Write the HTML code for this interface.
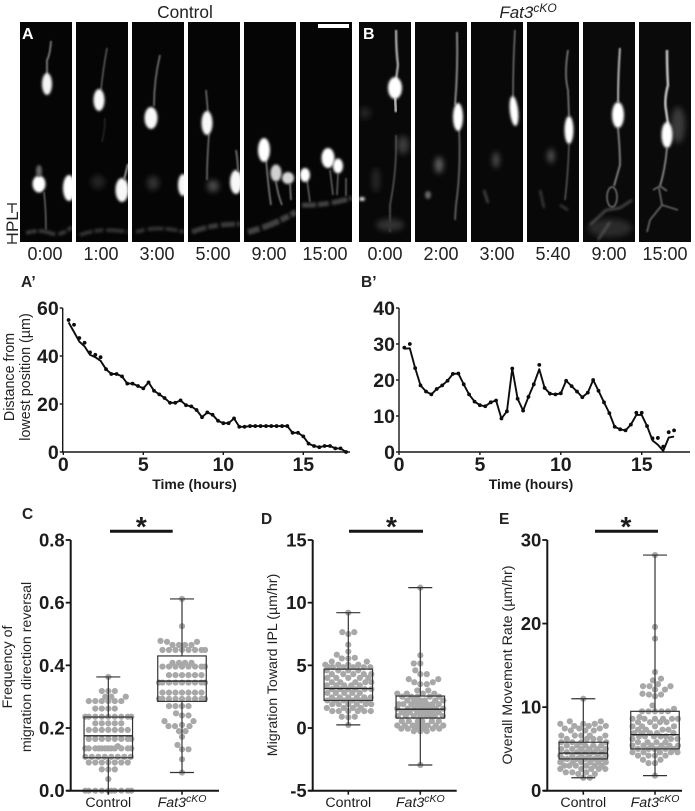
<!DOCTYPE html>
<html lang="en">
<head>
<meta charset="utf-8">
<title>Fat3 cKO migration figure</title>
<style>
html,body{margin:0;padding:0;background:#fff;}
svg{display:block;font-family:"Liberation Sans",sans-serif;}
</style>
</head>
<body>
<svg id="figure" xmlns="http://www.w3.org/2000/svg" width="695" height="811" viewBox="0 0 695 811">
<defs>
<filter id="b1" x="-60%" y="-60%" width="220%" height="220%"><feGaussianBlur stdDeviation="1.25"/></filter>
<filter id="b2" x="-60%" y="-60%" width="220%" height="220%"><feGaussianBlur stdDeviation="0.8"/></filter>
<filter id="b3" x="-100%" y="-100%" width="300%" height="300%"><feGaussianBlur stdDeviation="3"/></filter>
<filter id="band" x="-20%" y="-200%" width="140%" height="500%"><feGaussianBlur stdDeviation="1.4"/></filter>
<clipPath id="ca1"><rect x="20" y="22" width="52" height="220"/></clipPath>
<clipPath id="ca2"><rect x="76" y="22" width="52" height="220"/></clipPath>
<clipPath id="ca3"><rect x="132" y="22" width="52" height="220"/></clipPath>
<clipPath id="ca4"><rect x="188" y="22" width="52" height="220"/></clipPath>
<clipPath id="ca5"><rect x="244" y="22" width="52" height="220"/></clipPath>
<clipPath id="ca6"><rect x="300" y="22" width="52" height="220"/></clipPath>
<clipPath id="cb1"><rect x="359" y="22" width="52" height="220"/></clipPath>
<clipPath id="cb2"><rect x="415" y="22" width="52" height="220"/></clipPath>
<clipPath id="cb3"><rect x="471" y="22" width="52" height="220"/></clipPath>
<clipPath id="cb4"><rect x="527" y="22" width="52" height="220"/></clipPath>
<clipPath id="cb5"><rect x="583" y="22" width="52" height="220"/></clipPath>
<clipPath id="cb6"><rect x="639" y="22" width="52" height="220"/></clipPath>
</defs>

<text x="185" y="18" font-size="17.3" text-anchor="middle" fill="#222">Control</text>
<text x="528" y="18" font-size="17" text-anchor="middle" font-style="italic" fill="#222">Fat3<tspan dy="-6" font-size="12">cKO</tspan></text>

<!-- Control micrographs -->
<g clip-path="url(#ca1)">
<rect x="20" y="22" width="52" height="220" fill="#050505"/>
<path d="M51 41 Q50 55 47 60 L47 75" stroke="#7d7d7d" stroke-width="1.8" fill="none" filter="url(#b2)"/>
<ellipse cx="47" cy="84" rx="5" ry="11" fill="#f4f4f4" filter="url(#b1)"/>
<ellipse cx="39" cy="184" rx="6.5" ry="8.5" fill="#fff" filter="url(#b1)"/>
<ellipse cx="39" cy="171" rx="3" ry="6" fill="#666" filter="url(#b1)"/>
<ellipse cx="69" cy="188" rx="6" ry="13" fill="#fff" filter="url(#b1)"/>
<path d="M44 192 Q46 210 46 230" stroke="#666" stroke-width="1.5" fill="none" filter="url(#b2)"/>
<path d="M26 233 Q40 229 50 233 T72 227" stroke="#383838" stroke-width="4" stroke-dasharray="11 2 17 3 8 2" fill="none" filter="url(#band)"/>
</g>
<g clip-path="url(#ca2)">
<rect x="76" y="22" width="52" height="220" fill="#050505"/>
<path d="M107 48 Q103 70 101 90" stroke="#5e5e5e" stroke-width="1.5" fill="none" filter="url(#b2)"/>
<path d="M105 118 Q105 130 102 142" stroke="#2c2c2c" stroke-width="1.3" fill="none" filter="url(#b2)"/>
<ellipse cx="99" cy="100" rx="5.5" ry="11" fill="#f8f8f8" filter="url(#b1)"/>
<ellipse cx="98" cy="182" rx="7" ry="7" fill="#232323" filter="url(#b3)"/>
<ellipse cx="122" cy="190" rx="6.5" ry="12" fill="#f8f8f8" filter="url(#b1)"/>
<path d="M128 164 L124 180" stroke="#888" stroke-width="2.2" fill="none" filter="url(#b2)"/>
<path d="M80 235 Q100 227 128 232" stroke="#323232" stroke-width="4" stroke-dasharray="13 2 9 3 18 2" fill="none" filter="url(#band)"/>
</g>
<g clip-path="url(#ca3)">
<rect x="132" y="22" width="52" height="220" fill="#050505"/>
<path d="M160 55 Q154 80 154 106" stroke="#707070" stroke-width="1.7" fill="none" filter="url(#b2)"/>
<ellipse cx="151" cy="118" rx="6.5" ry="11" fill="#f8f8f8" filter="url(#b1)"/>
<ellipse cx="153" cy="183" rx="6" ry="7" fill="#333" filter="url(#b3)"/>
<ellipse cx="183" cy="185" rx="5" ry="11" fill="#f8f8f8" filter="url(#b1)"/>
<path d="M136 232 Q158 225 184 232" stroke="#323232" stroke-width="4" stroke-dasharray="9 3 16 2 12 2" fill="none" filter="url(#band)"/>
</g>
<g clip-path="url(#ca4)">
<rect x="188" y="22" width="52" height="220" fill="#050505"/>
<path d="M206 90 L208 113 M209 134 Q207 160 207 180" stroke="#707070" stroke-width="1.6" fill="none" filter="url(#b2)"/>
<ellipse cx="207" cy="123" rx="5.5" ry="12" fill="#f8f8f8" filter="url(#b1)"/>
<ellipse cx="213" cy="186" rx="6" ry="6" fill="#4a4a4a" filter="url(#b3)"/>
<ellipse cx="236" cy="182" rx="6" ry="12" fill="#f8f8f8" filter="url(#b1)"/>
<path d="M236 150 Q238 162 238 172" stroke="#666" stroke-width="2" fill="none" filter="url(#b2)"/>
<path d="M192 232 Q212 224 240 224" stroke="#3b3b3b" stroke-width="5" stroke-dasharray="15 2 10 3 14 2" fill="none" filter="url(#band)"/>
</g>
<g clip-path="url(#ca5)">
<rect x="244" y="22" width="52" height="220" fill="#050505"/>
<path d="M266 158 Q268 185 271 205 M276 182 Q278 195 282 205 M290 184 L291 200" stroke="#777" stroke-width="1.7" fill="none" filter="url(#b2)"/>
<ellipse cx="264" cy="150" rx="6" ry="12" fill="#fff" filter="url(#b1)"/>
<ellipse cx="276" cy="173" rx="5.5" ry="8.5" fill="#d0d0d0" filter="url(#b1)"/>
<ellipse cx="288" cy="178" rx="6" ry="6" fill="#d8d8d8" filter="url(#b1)"/>
<path d="M248 232 Q272 226 296 212" stroke="#424242" stroke-width="6" stroke-dasharray="12 3 18 2 9 2" fill="none" filter="url(#band)"/>
</g>
<g clip-path="url(#ca6)">
<rect x="300" y="22" width="52" height="220" fill="#050505"/>
<path d="M307 180 L310 202 M330 170 L333 195 M338 174 L337 195 M346 178 L346 196" stroke="#666" stroke-width="1.5" fill="none" filter="url(#b2)"/>
<ellipse cx="305" cy="175" rx="5" ry="7" fill="#fff" filter="url(#b1)"/>
<ellipse cx="328" cy="158" rx="6.5" ry="10" fill="#fff" filter="url(#b1)"/>
<ellipse cx="338" cy="166" rx="5" ry="7.5" fill="#fff" filter="url(#b1)"/>
<path d="M302 205 Q325 206 352 198" stroke="#424242" stroke-width="5" stroke-dasharray="14 2 11 3 16 2" fill="none" filter="url(#band)"/>
</g>
<rect x="318" y="24" width="31" height="4" fill="#fff"/>
<text x="22" y="39" font-size="16" font-weight="bold" fill="#fff">A</text>

<!-- Fat3cKO micrographs -->
<g clip-path="url(#cb1)">
<rect x="359" y="22" width="52" height="220" fill="#080808"/>
<ellipse cx="403" cy="145" rx="6" ry="9" fill="#3a3a3a" filter="url(#b3)"/>
<ellipse cx="376" cy="180" rx="4" ry="12" fill="#282828" filter="url(#b3)"/>
<ellipse cx="365" cy="113" rx="6" ry="6" fill="#222" filter="url(#b3)"/>
<path d="M396 30 Q396 50 398 65 L396 80" stroke="#aaa" stroke-width="2.4" fill="none" filter="url(#b2)"/>
<path d="M395 98 L396 112" stroke="#bbb" stroke-width="2.8" fill="none" filter="url(#b2)"/>
<path d="M396 135 Q397 170 390 205 L390 232" stroke="#5c5c5c" stroke-width="1.5" fill="none" filter="url(#b2)"/>
<ellipse cx="395" cy="88" rx="7" ry="11" fill="#fff" filter="url(#b1)"/>
<ellipse cx="362" cy="199" rx="3" ry="2" fill="#ddd" filter="url(#b1)"/>
<ellipse cx="390" cy="225" rx="14" ry="6" fill="#333" filter="url(#b3)"/>
</g>
<g clip-path="url(#cb2)">
<rect x="415" y="22" width="52" height="220" fill="#080808"/>
<ellipse cx="439" cy="165" rx="4" ry="8" fill="#666" filter="url(#b3)"/>
<ellipse cx="428" cy="195" rx="3" ry="4" fill="#666" filter="url(#b1)"/>
<path d="M457 32 Q458 70 455 105" stroke="#888" stroke-width="2" fill="none" filter="url(#b2)"/>
<path d="M459 128 Q461 170 456 205 L455 220" stroke="#666" stroke-width="1.7" fill="none" filter="url(#b2)"/>
<ellipse cx="458" cy="117" rx="5" ry="14" fill="#fff" filter="url(#b1)"/>
</g>
<g clip-path="url(#cb3)">
<rect x="471" y="22" width="52" height="220" fill="#080808"/>
<ellipse cx="496" cy="160" rx="3" ry="8" fill="#555" filter="url(#b3)"/>
<path d="M484 190 L488 203" stroke="#555" stroke-width="2" fill="none" filter="url(#b1)"/>
<path d="M515 30 Q513 65 513 97" stroke="#6e6e6e" stroke-width="1.6" fill="none" filter="url(#b2)"/>
<ellipse cx="514" cy="111" rx="4.2" ry="15" fill="#fff" filter="url(#b1)" transform="rotate(-6 514 111)"/>
</g>
<g clip-path="url(#cb4)">
<rect x="527" y="22" width="52" height="220" fill="#080808"/>
<ellipse cx="551" cy="156" rx="3.5" ry="7" fill="#555" filter="url(#b3)"/>
<path d="M568 50 Q564 75 568 90 L569 116" stroke="#7a7a7a" stroke-width="1.7" fill="none" filter="url(#b2)"/>
<path d="M569 144 Q568 175 565 200" stroke="#5a5a5a" stroke-width="1.5" fill="none" filter="url(#b2)"/>
<path d="M540 190 L544 208 M560 205 L568 210" stroke="#444" stroke-width="2" fill="none" filter="url(#b1)"/>
<ellipse cx="569" cy="130" rx="4.5" ry="14" fill="#fff" filter="url(#b1)"/>
</g>
<g clip-path="url(#cb5)">
<rect x="583" y="22" width="52" height="220" fill="#0a0a0a"/>
<path d="M620 48 Q618 75 618 102" stroke="#aaa" stroke-width="2.2" fill="none" filter="url(#b2)"/>
<path d="M618 128 Q620 150 620 165 L614 186" stroke="#808080" stroke-width="1.9" fill="none" filter="url(#b2)"/>
<ellipse cx="612" cy="197" rx="5" ry="10" fill="none" stroke="#777" stroke-width="1.5" filter="url(#b2)"/>
<ellipse cx="610" cy="228" rx="22" ry="9" fill="#2a2a2a" filter="url(#b3)"/>
<path d="M590 225 L606 210 L620 208 L632 200 M598 240 L610 222" stroke="#5c5c5c" stroke-width="1.9" fill="none" filter="url(#b1)"/>
<ellipse cx="618" cy="115" rx="6" ry="13" fill="#fff" filter="url(#b1)"/>
</g>
<g clip-path="url(#cb6)">
<rect x="639" y="22" width="52" height="220" fill="#0a0a0a"/>
<ellipse cx="678" cy="125" rx="7" ry="18" fill="#3a3a3a" filter="url(#b3)"/>
<path d="M667 50 Q667 70 668 85 Q664 100 666 110 L668 124" stroke="#c4c4c4" stroke-width="2.5" fill="none" filter="url(#b2)"/>
<path d="M667 148 Q665 170 660 186" stroke="#888" stroke-width="1.8" fill="none" filter="url(#b2)"/>
<path d="M653 190 L660 186 L667 191 M659 188 L662 205 L650 220 L647 232 M662 205 L678 210" stroke="#666" stroke-width="1.7" fill="none" filter="url(#b2)"/>
<ellipse cx="667" cy="135" rx="5.5" ry="13" fill="#fff" filter="url(#b1)"/>
</g>
<text x="363" y="39" font-size="16" font-weight="bold" fill="#fff">B</text>

<g>
<text transform="translate(18,224) rotate(-90)" font-size="17" text-anchor="middle" fill="#222">IPL</text>
<path d="M12 204 V213 M7 204 H17 M12 235 V243 M7 243 H17" stroke="#222" stroke-width="1.3" fill="none"/>
</g>

<g font-size="18" text-anchor="middle" fill="#222">
<text x="45" y="260">0:00</text>
<text x="101" y="260">1:00</text>
<text x="157" y="260">3:00</text>
<text x="213" y="260">5:00</text>
<text x="269" y="260">9:00</text>
<text x="325" y="260">15:00</text>
<text x="385" y="260">0:00</text>
<text x="441" y="260">2:00</text>
<text x="497" y="260">3:00</text>
<text x="553" y="260">5:40</text>
<text x="609" y="260">9:00</text>
<text x="665" y="260">15:00</text>
</g>

<g font-size="15.5" font-weight="bold" fill="#222">
<text x="21" y="287">A’</text>
<text x="361" y="287">B’</text>
<text x="22" y="519">C</text>
<text x="261" y="524">D</text>
<text x="499" y="524">E</text>
</g>

<text transform="translate(14,377) rotate(-90)" font-size="14.3" text-anchor="middle" fill="#222">Distance from</text>
<text transform="translate(30,377) rotate(-90)" font-size="14.3" text-anchor="middle" fill="#222">lowest position (µm)</text>
<text transform="translate(12,667) rotate(-90)" font-size="14.2" text-anchor="middle" fill="#222">Frequency of</text>
<text transform="translate(31,667) rotate(-90)" font-size="14.2" text-anchor="middle" fill="#222">migration direction reversal</text>
<text transform="translate(277,665) rotate(-90)" font-size="14.2" text-anchor="middle" fill="#222">Migration Toward IPL (µm/hr)</text>
<text transform="translate(512,665) rotate(-90)" font-size="14.2" text-anchor="middle" fill="#222">Overall Movement Rate (µm/hr)</text>

<g id="charts"></g>
</svg>

<script>
/* ---- line chart data ---- */
const timeHours = [0.33,0.67,1,1.33,1.67,2,2.33,2.67,3,3.33,3.67,4,4.33,4.67,5,5.33,5.67,6,6.33,6.67,7,7.33,7.67,8,8.33,8.67,9,9.33,9.67,10,10.33,10.67,11,11.33,11.67,12,12.33,12.67,13,13.33,13.67,14,14.33,14.67,15,15.33,15.67,16,16.33,16.67,17,17.33,17.67];
const aPrimeDots = [55,53,47.5,45.5,41.5,40.5,39.5,34.5,32.5,32.5,31.5,28.5,28.5,27.5,26.5,29,25.5,24,22.5,20.5,20.5,21.5,19.5,19,17.5,14.5,16.5,15.5,13,12,12,14,10.5,10.5,10.8,10.8,10.8,10.8,10.8,10.8,10.8,10.8,8,8,6.5,3.5,2.5,2,2.5,2.5,1.5,1.5,0];
const aPrimeLine = [54,50,46,44,40.5,39.5,38,34.5,32.5,32.5,31.5,28.5,28.5,27.5,26.5,29,25.5,24,22.5,20.5,20.5,21.5,19.5,19,17.5,14.5,16.5,15.5,13,12,12,14,10.5,10.5,10.8,10.8,10.8,10.8,10.8,10.8,10.8,10.8,8,8,6.5,3.5,2.5,2,2.5,2.5,1.5,1.5,0];
const bPrimeTime = [0.33,0.67,1,1.33,1.67,2,2.33,2.67,3,3.33,3.67,4,4.33,4.67,5,5.33,5.67,6,6.33,6.67,7,7.33,7.67,8,8.33,8.67,9,9.33,9.67,10,10.33,10.67,11,11.33,11.67,12,12.33,12.67,13,13.33,13.67,14,14.33,14.67,15,15.33,15.67,16,16.33,16.67,17];
const bPrimeDots = [29,30,23.3,18.5,16.8,16,17.5,18.5,19.8,21.7,21.8,18.8,16,14,13,12.7,13.8,14.3,9.3,11.3,23.2,14.8,11.5,15.3,18.8,24.2,17.8,16.2,16,16.3,19.8,18.3,16.8,15.2,16.5,20,17,13.8,10.8,7,6.3,6,7.6,10.9,10.9,7.2,3.8,3.9,1.5,5.5,6];
const bPrimeLine = [28.7,28.8,23.3,18.5,16.8,16,17.5,18.5,19.8,21.7,21.8,18.8,16,14,13,12.7,13.8,14.3,9.3,11.3,23.2,14.8,11.5,15.3,18.8,23,17.8,16.2,16,16.3,19.8,18.3,16.8,15.2,16.5,20,17,13.8,10.8,7,6.3,6,7.6,10.3,10.3,7.2,3.2,2,0.3,4,4.3];

/* ---- tick labels ---- */
const aPrimeYTicks = [0,20,40,60];
const bPrimeYTicks = [0,10,20,30,40];
const hourTicks = [0,5,10,15];
const cYTicks = ["0.0","0.2","0.4","0.6","0.8"];
const dYTicks = [-5,0,5,10,15];
const eYTicks = [0,10,20,30];

/* ---- box plot summaries: [whisker low, Q1, median, Q3, whisker high] ---- */
const cControlBox = [0,0.105,0.175,0.235,0.363];
const cCkoBox = [0.058,0.285,0.35,0.43,0.612];
const dControlBox = [0.25,2.2,3.15,4.7,9.2];
const dCkoBox = [-2.95,0.8,1.5,2.55,11.2];
const eControlBox = [1.55,3.8,4.5,5.8,11];
const eCkoBox = [1.8,5,6.7,9.5,28.2];

/* ---- individual cells ---- */
const cControlDots = [0,0,0,0,0,0,0,0,0,0,0.037,0.068,0.068,0.068,0.09,0.09,0.09,0.09,0.09,0.09,0.09,0.108,0.108,0.108,0.108,0.108,0.108,0.108,0.108,0.135,0.135,0.135,0.135,0.135,0.135,0.135,0.135,0.135,0.135,0.135,0.135,0.142,0.165,0.165,0.165,0.165,0.165,0.165,0.165,0.165,0.194,0.194,0.194,0.194,0.194,0.194,0.194,0.215,0.215,0.215,0.215,0.215,0.236,0.236,0.236,0.236,0.236,0.236,0.236,0.236,0.236,0.262,0.262,0.262,0.262,0.286,0.286,0.286,0.286,0.286,0.286,0.3,0.3,0.3,0.318,0.318,0.318,0.363];
const cCkoDots = [0.058,0.1,0.132,0.132,0.146,0.172,0.19,0.19,0.206,0.206,0.206,0.21,0.222,0.222,0.24,0.24,0.247,0.27,0.27,0.27,0.27,0.293,0.293,0.293,0.293,0.293,0.293,0.293,0.293,0.293,0.313,0.313,0.313,0.313,0.313,0.313,0.313,0.345,0.345,0.345,0.345,0.345,0.345,0.345,0.345,0.345,0.369,0.369,0.369,0.369,0.369,0.369,0.396,0.396,0.396,0.396,0.396,0.396,0.396,0.396,0.408,0.408,0.408,0.408,0.449,0.449,0.449,0.449,0.449,0.449,0.449,0.449,0.465,0.465,0.465,0.465,0.475,0.475,0.478,0.525,0.612];
const dControlDots = [0.25,0.85,0.9,0.9,1.35,1.35,1.35,1.35,1.35,1.35,1.6,1.6,1.6,1.6,1.9,1.9,1.9,1.9,1.9,1.9,2.2,2.2,2.2,2.2,2.2,2.2,2.45,2.45,2.45,2.45,2.45,2.45,2.8,2.8,2.8,2.8,2.8,3.1,3.1,3.1,3.1,3.1,3.1,3.4,3.4,3.4,3.4,3.4,3.65,3.65,3.65,3.65,3.65,4,4,4,4,4,4.3,4.3,4.3,4.3,4.3,4.6,4.6,4.6,4.6,4.85,4.85,4.85,4.85,4.85,4.85,5.05,5.05,5.05,5.05,5.3,5.3,5.55,5.55,5.6,5.85,6.1,6.65,7.5,7.65,7.65,9.2];
const dCkoDots = [-2.95,-0.25,-0.25,-0.25,-0.05,-0.05,-0.05,-0.05,-0.05,-0.05,0.2,0.2,0.2,0.2,0.2,0.2,0.2,0.2,0.2,0.55,0.55,0.55,0.55,0.55,0.55,0.95,0.95,0.95,0.95,0.95,0.95,0.95,0.95,1.25,1.25,1.25,1.25,1.25,1.25,1.25,1.25,1.55,1.55,1.55,1.55,1.55,1.55,1.55,1.55,1.9,1.9,1.9,1.9,1.9,1.9,1.9,1.9,2.2,2.2,2.2,2.2,2.2,2.2,2.5,2.5,2.5,2.5,2.5,2.75,2.75,2.75,2.75,3,3,3.5,3.5,3.65,3.65,3.9,3.9,4.3,4.3,4.6,5.15,5.15,5.8,11.2];
const eControlDots = [1.55,1.55,2,2,2.2,2.2,2.2,2.6,2.6,2.6,2.6,2.6,3,3,3,3,3,3,3.4,3.4,3.4,3.4,3.4,3.4,3.8,3.8,3.8,3.8,3.8,3.8,4.2,4.2,4.2,4.2,4.2,4.2,4.6,4.6,4.6,4.6,4.6,5,5,5,5,5,5,5.4,5.4,5.4,5.4,5.4,5.8,5.8,5.8,5.8,6.2,6.2,6.2,6.2,6.6,6.6,6.6,6.6,6.6,7.2,7.2,7.2,7.45,7.45,7.45,7.75,7.75,7.75,8,8,8,8.3,8.3,11];
const eCkoDots = [1.8,3.3,3.3,3.7,3.7,4.2,4.2,4.2,4.2,4.6,4.6,4.6,4.6,4.6,5,5,5,5,5,5,5.4,5.4,5.4,5.4,5.4,5.4,5.8,5.8,5.8,5.8,6.2,6.2,6.2,6.5,6.5,6.5,6.5,6.5,6.9,6.9,6.9,6.9,6.9,7.3,7.3,7.3,7.3,7.7,7.7,7.7,7.7,8.2,8.2,8.2,8.2,8.6,8.6,8.6,8.6,8.6,8.6,8.8,9.5,9.5,9.5,9.5,9.5,9.8,10.2,11.3,11.5,11.5,11.6,12.1,12.1,12.5,12.5,12.5,12.75,13.2,13.4,14.2,18.2,19.6,28.2];

/* ---- drawing helpers ---- */
const NS = "http://www.w3.org/2000/svg";
const root = document.getElementById("charts");

function node(tag, attrs, parent) {
  const el = document.createElementNS(NS, tag);
  for (const k in attrs) el.setAttribute(k, attrs[k]);
  parent.appendChild(el);
  return el;
}
function linear(d0, d1, r0, r1) {
  return function (v) { return r0 + (v - d0) * (r1 - r0) / (d1 - d0); };
}
function axisLine(parent, d, width, name) {
  const el = node("path", { d: d, stroke: "#161616", "stroke-width": width, fill: "none" }, parent);
  
  
  return el;
}
function label(parent, x, y, str, size, anchor, weight, name) {
  const el = node("text", { x: x, y: y, "font-size": size, "text-anchor": anchor, "font-weight": weight, fill: "#1c1c1c" }, parent);
  el.textContent = str;
  
  
  return el;
}

function lineChart(cfg) {
  const g = node("g", {}, root);
  
  
  const x = linear(0, 15, cfg.x0, cfg.x15);
  const y = linear(0, cfg.yMax, cfg.bottom, cfg.top);
  axisLine(g, "M" + cfg.axisX + " " + cfg.top + " V" + cfg.bottom + " H" + cfg.xEnd, 1.4, "axes");
  cfg.yTicks.forEach(function (t) {
    axisLine(g, "M" + (cfg.axisX - 3) + " " + y(t) + " H" + cfg.axisX, 1.4, "y-tick");
    label(g, cfg.axisX - 4, y(t) + 7, String(t), 19.5, "end", "bold", "y-tick-label");
  });
  cfg.xTicks.forEach(function (t) {
    axisLine(g, "M" + x(t) + " " + cfg.bottom + " v3", 1.4, "x-tick");
    label(g, x(t), 471, String(t), 19.5, "middle", "bold", "x-tick-label");
  });
  label(g, cfg.titleX, 489, "Time (hours)", 14, "middle", "bold", "x-axis-title");
  const pts = cfg.time.map(function (t, i) { return x(t) + " " + y(cfg.line[i]); }).join(" L");
  const line = node("path", { d: "M" + pts, stroke: "#0c0c0c", "stroke-width": 1.9, fill: "none", "stroke-linejoin": "round" }, g);
  
  
  cfg.time.forEach(function (t, i) {
    const dot = node("circle", { cx: x(t), cy: y(cfg.dots[i]), r: 1.9, fill: "#0c0c0c" }, g);
    
    
  });
}

/* stack values sideways inside a fixed half-width; tolerate more overlap when a band is crowded */
function swarm(values, cx, y, dia, halfWidth) {
  const placed = [];
  values.slice().sort(function (a, b) { return a - b; }).forEach(function (v, i) {
    const py = y(v);
    const side = i % 2 ? 1 : -1;
    let gap = dia;
    let found = false;
    while (!found && gap > 0) {
      for (let off = 0; off <= halfWidth && !found; off += 0.5) {
        for (const s of [side, -side]) {
          const px = cx + s * off;
          const clash = placed.some(function (p) {
            const dx = p.x - px, dy = p.y - py;
            return dx * dx + dy * dy < gap * gap;
          });
          if (!clash) { placed.push({ x: px, y: py }); found = true; break; }
        }
      }
      gap -= 0.5;
    }
  });
  return placed;
}

function boxGroup(g, cx, boxW, capW, stats, dots, y, name) {
  const grp = node("g", {}, g);
  
  
  swarm(dots, cx, y, 6.2, 23).forEach(function (p) {
    const c = node("circle", { cx: p.x, cy: p.y, r: 3.1, fill: "#a8a8a8" }, grp);
    
    
  });
  const stroke = "#333";
  const d = "M" + cx + " " + y(stats[0]) + " V" + y(stats[1]) + " M" + cx + " " + y(stats[3]) + " V" + y(stats[4]) +
    " M" + (cx - capW / 2) + " " + y(stats[0]) + " h" + capW + " M" + (cx - capW / 2) + " " + y(stats[4]) + " h" + capW;
  const whisk = node("path", { d: d, stroke: stroke, "stroke-width": 1.2, fill: "none" }, grp);
  
  
  const box = node("rect", { x: cx - boxW / 2, y: y(stats[3]), width: boxW, height: y(stats[1]) - y(stats[3]), stroke: stroke, "stroke-width": 1.2, fill: "none" }, grp);
  
  
  const med = node("path", { d: "M" + (cx - boxW / 2) + " " + y(stats[2]) + " h" + boxW, stroke: "#222", "stroke-width": 1.4, fill: "none" }, grp);
  
  
}

function boxChart(cfg) {
  const g = node("g", {}, root);
  
  
  const y = linear(cfg.yMin, cfg.yMax, 790.7, 540);
  boxGroup(g, cfg.cx1, 48.5, 24, cfg.box1, cfg.dots1, y, "control-group");
  boxGroup(g, cfg.cx2, 48.5, 24, cfg.box2, cfg.dots2, y, "cko-group");
  axisLine(g, "M" + cfg.axisX + " 540 V790.7 M" + (cfg.axisX - 4) + " 790.7 H" + cfg.xEnd, 2, "axes");
  cfg.ticks.forEach(function (t) {
    const v = Number(t);
    axisLine(g, "M" + (cfg.axisX - 5) + " " + y(v) + " H" + cfg.axisX, 1.8, "y-tick");
    label(g, cfg.axisX - 6, y(v) + 6.5, String(t), 18.5, "end", "bold", "y-tick-label");
  });
  [cfg.cx1, cfg.cx2].forEach(function (c) {
    axisLine(g, "M" + c + " 790.7 v4", 1.6, "x-tick");
  });
  label(g, cfg.cx1, 807, "Control", 14.2, "middle", "normal", "x-category-control");
  const cko = label(g, cfg.cx2, 807, "Fat3", 14.2, "middle", "normal", "x-category-fat3-cko");
  cko.setAttribute("font-style", "italic");
  const sup = node("tspan", { dy: -5, "font-size": 10.5 }, cko);
  sup.textContent = "cKO";
  axisLine(g, "M" + cfg.barX0 + " 531.3 H" + cfg.barX1, 3, "significance-bar");
  label(g, (cfg.barX0 + cfg.barX1) / 2 + cfg.starShift, 536, "*", 28, "middle", "bold", "significance-star");
}

lineChart({ name: "chart-a-prime", x0: 63.3, x15: 303.3, axisX: 62.7, top: 308, bottom: 452, xEnd: 350, yMax: 60,
  yTicks: aPrimeYTicks, xTicks: hourTicks, titleX: 194.5, time: timeHours, dots: aPrimeDots, line: aPrimeLine });
lineChart({ name: "chart-b-prime", x0: 399, x15: 641.7, axisX: 399, top: 308, bottom: 452, xEnd: 690, yMax: 40,
  yTicks: bPrimeYTicks, xTicks: hourTicks, titleX: 531, time: bPrimeTime, dots: bPrimeDots, line: bPrimeLine });
boxChart({ name: "chart-c", axisX: 70.7, xEnd: 219, yMin: 0, yMax: 0.8, ticks: cYTicks, cx1: 108.3, cx2: 182,
  box1: cControlBox, box2: cCkoBox, dots1: cControlDots, dots2: cCkoDots, barX0: 110, barX1: 172.7, starShift: 0 });
boxChart({ name: "chart-d", axisX: 312.7, xEnd: 456.7, yMin: -5, yMax: 15, ticks: dYTicks, cx1: 348.3, cx2: 420.3,
  box1: dControlBox, box2: dCkoBox, dots1: dControlDots, dots2: dCkoDots, barX0: 349, barX1: 423, starShift: 5.5 });
boxChart({ name: "chart-e", axisX: 547.3, xEnd: 682, yMin: 0, yMax: 30, ticks: eYTicks, cx1: 583.3, cx2: 655,
  box1: eControlBox, box2: eCkoBox, dots1: eControlDots, dots2: eCkoDots, barX0: 595, barX1: 658, starShift: -0.5 });
</script>
</body>
</html>
